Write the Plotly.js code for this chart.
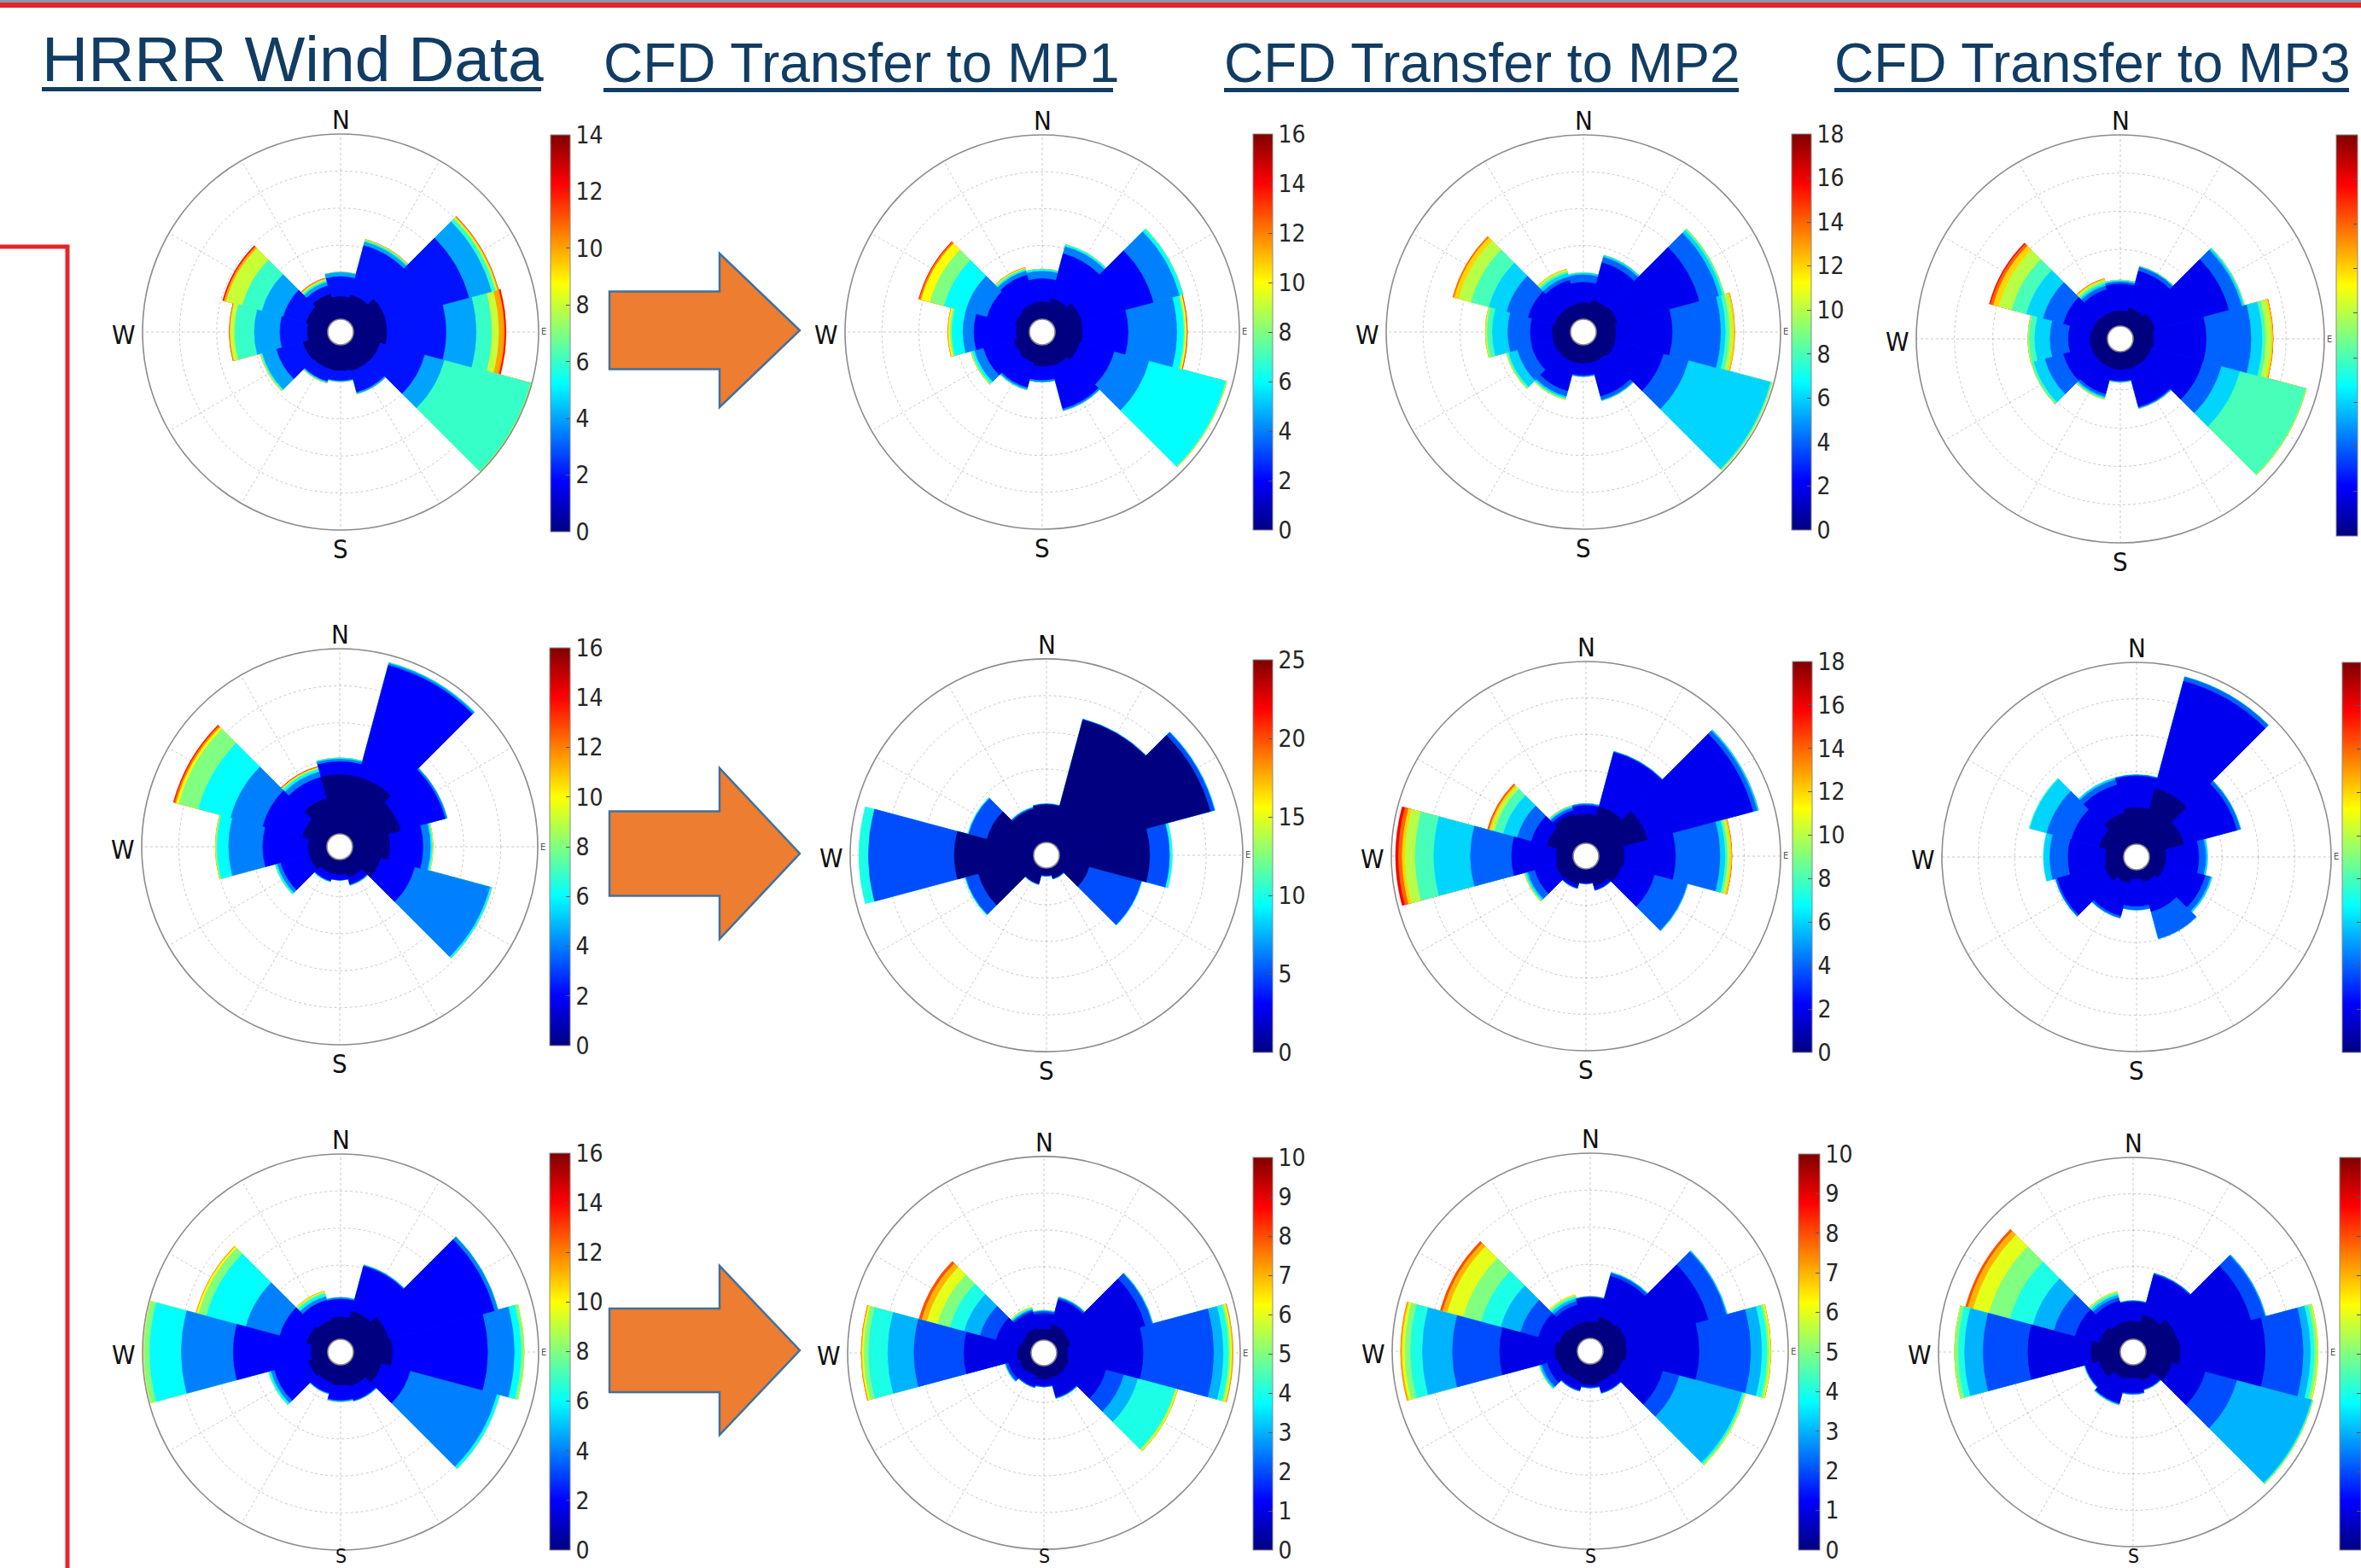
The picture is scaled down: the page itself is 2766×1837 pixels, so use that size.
<!DOCTYPE html>
<html><head><meta charset="utf-8">
<script src="https://cdn.plot.ly/plotly-3.0.1.min.js"></script>
<style>html,body{margin:0;padding:0;overflow:hidden;background:#fff}</style>
</head><body><div id="chart" style="width:2766px;height:1837px"></div>
<script>
const W = 2766, H = 1837;

// wind direction sectors (degrees, clockwise from North)
const directions = [0, 30, 60, 90, 120, 150, 180, 210, 240, 270, 300, 330];

// column titles
const columnTitles = ["HRRR Wind Data", "CFD Transfer to MP1", "CFD Transfer to MP2", "CFD Transfer to MP3"];

// colorbar maximum speed and speed-bin width for each rose (row-major, 3 rows x 4 columns)
const colorbarMax = [14, 16, 18, 18,  16, 25, 18, 18,  16, 10, 10, 10];
const binWidth    = [2, 2, 2, 2,      2, 5, 2, 2,      2, 1, 1, 1];

// cumulative frequency (in ring units, 5 rings) for speeds <= each bin upper edge; one row per bin
const roseR1Hrrr = [
  [0.61, 0.69, 0.91, 0.90, 0.75, 0.73, 0.69, 0.68, 0.70, 0.55, 0.61, 0.71],
  [1.15, 2.07, 3.24, 2.50, 2.00, 1.33, 0.96, 1.02, 1.44, 1.29, 1.25, 0.95],
  [1.26, 2.17, 3.87, 3.31, 2.55, 1.37, 0.98, 1.05, 1.84, 1.98, 1.85, 1.05],
  [1.27, 2.21, 3.98, 3.73, 4.96, 1.38, 0.99, 1.07, 1.88, 2.51, 2.40, 1.10],
  [1.27, 2.23, 4.03, 3.92, 4.98, 1.38, 0.99, 1.08, 1.90, 2.63, 2.85, 1.14],
  [1.27, 2.24, 4.06, 4.07, 4.99, 1.38, 0.99, 1.08, 1.90, 2.65, 2.91, 1.16],
  [1.27, 2.24, 4.07, 4.12, 5.00, 1.38, 0.99, 1.08, 1.90, 2.66, 2.95, 1.17]
];
const roseR1Mp1 = [
  [0.47, 0.60, 0.75, 0.74, 0.70, 0.60, 0.58, 0.50, 0.45, 0.35, 0.40, 0.45],
  [1.10, 1.85, 2.77, 1.98, 1.67, 1.80, 0.95, 1.20, 1.30, 1.50, 1.20, 1.25],
  [1.30, 2.05, 3.50, 3.30, 2.65, 1.85, 1.00, 1.25, 1.55, 1.80, 1.80, 1.36],
  [1.35, 2.10, 3.60, 3.48, 4.80, 1.86, 1.01, 1.27, 1.62, 2.10, 2.40, 1.40],
  [1.36, 2.11, 3.61, 3.52, 4.82, 1.86, 1.01, 1.28, 1.65, 2.15, 2.80, 1.43],
  [1.36, 2.11, 3.61, 3.56, 4.83, 1.86, 1.01, 1.28, 1.66, 2.20, 3.05, 1.45],
  [1.36, 2.11, 3.61, 3.58, 4.83, 1.86, 1.01, 1.28, 1.66, 2.21, 3.10, 1.46],
  [1.36, 2.11, 3.61, 3.59, 4.83, 1.86, 1.01, 1.28, 1.66, 2.21, 3.12, 1.46]
];
const roseR1Mp2 = [
  [0.45, 0.55, 0.60, 0.53, 0.55, 0.50, 0.50, 0.50, 0.50, 0.49, 0.45, 0.42],
  [1.00, 1.60, 2.90, 2.06, 1.90, 1.45, 0.82, 1.30, 1.10, 1.09, 1.20, 1.10],
  [1.20, 1.75, 3.45, 3.37, 2.60, 1.55, 0.85, 1.45, 1.50, 1.70, 1.80, 1.20],
  [1.25, 1.80, 3.55, 3.50, 4.90, 1.57, 0.86, 1.50, 1.75, 2.12, 2.30, 1.30],
  [1.26, 1.81, 3.60, 3.60, 4.93, 1.58, 0.86, 1.53, 1.80, 2.26, 2.80, 1.35],
  [1.26, 1.81, 3.61, 3.70, 4.95, 1.58, 0.86, 1.55, 1.82, 2.30, 3.15, 1.40],
  [1.26, 1.81, 3.61, 3.75, 4.95, 1.58, 0.86, 1.55, 1.82, 2.31, 3.28, 1.42],
  [1.26, 1.81, 3.61, 3.76, 4.95, 1.58, 0.86, 1.55, 1.82, 2.31, 3.32, 1.42]
];
const roseR1Mp3 = [
  [0.40, 0.50, 0.60, 0.54, 0.50, 0.48, 0.47, 0.45, 0.45, 0.45, 0.42, 0.40],
  [1.10, 1.50, 2.60, 1.91, 1.90, 1.50, 0.76, 1.15, 1.20, 1.02, 1.20, 1.00],
  [1.15, 1.60, 2.95, 3.08, 2.40, 1.53, 0.78, 1.22, 1.70, 1.50, 1.75, 1.10],
  [1.18, 1.62, 3.00, 3.37, 2.90, 1.54, 0.79, 1.26, 2.00, 1.90, 2.20, 1.15],
  [1.20, 1.63, 3.03, 3.46, 4.68, 1.55, 0.80, 1.28, 2.06, 2.05, 2.60, 1.20],
  [1.20, 1.63, 3.03, 3.60, 4.70, 1.55, 0.80, 1.30, 2.07, 2.08, 2.95, 1.25],
  [1.20, 1.63, 3.03, 3.65, 4.70, 1.55, 0.80, 1.30, 2.07, 2.08, 3.10, 1.28],
  [1.20, 1.63, 3.03, 3.66, 4.70, 1.55, 0.80, 1.30, 2.07, 2.08, 3.18, 1.29],
  [1.20, 1.63, 3.03, 3.66, 4.70, 1.55, 0.80, 1.30, 2.07, 2.08, 3.21, 1.29]
];
const roseR2Hrrr = [
  [1.60, 1.60, 1.35, 1.00, 0.80, 0.50, 0.40, 0.40, 0.50, 0.50, 0.70, 1.00],
  [1.95, 4.72, 2.60, 1.90, 1.75, 0.70, 0.55, 0.60, 1.30, 1.73, 1.80, 1.60],
  [2.02, 4.78, 2.65, 2.10, 3.85, 0.72, 0.56, 0.62, 1.40, 2.65, 2.70, 1.75],
  [2.05, 4.80, 2.66, 2.14, 3.90, 0.73, 0.56, 0.63, 1.45, 2.96, 3.60, 1.82],
  [2.05, 4.80, 2.66, 2.16, 3.91, 0.73, 0.56, 0.63, 1.46, 3.00, 4.15, 1.85],
  [2.05, 4.80, 2.66, 2.17, 3.91, 0.73, 0.56, 0.63, 1.46, 3.01, 4.22, 1.87],
  [2.05, 4.80, 2.66, 2.17, 3.91, 0.73, 0.56, 0.63, 1.46, 3.01, 4.27, 1.89],
  [2.05, 4.80, 2.66, 2.17, 3.91, 0.73, 0.56, 0.63, 1.46, 3.01, 4.30, 1.90]
];
const roseR2Mp1 = [
  [1.03, 3.47, 4.27, 2.46, 0.85, 0.30, 0.20, 0.45, 1.57, 2.16, 1.33, 0.96],
  [1.05, 3.49, 4.39, 3.00, 2.33, 0.32, 0.22, 0.47, 1.93, 4.50, 1.85, 1.00],
  [1.06, 3.50, 4.41, 3.08, 2.35, 0.33, 0.23, 0.48, 1.96, 4.76, 1.88, 1.02]
];
const roseR2Mp2 = [
  [0.80, 1.05, 1.40, 0.70, 0.65, 0.50, 0.37, 0.45, 0.50, 0.46, 0.75, 0.85],
  [1.04, 2.60, 4.40, 2.11, 1.60, 0.60, 0.40, 0.55, 1.10, 1.69, 1.20, 0.95],
  [1.08, 2.62, 4.52, 3.33, 2.53, 0.62, 0.41, 0.56, 1.30, 2.82, 1.60, 1.02],
  [1.09, 2.63, 4.56, 3.47, 2.55, 0.62, 0.41, 0.57, 1.35, 3.83, 2.00, 1.06],
  [1.09, 2.63, 4.56, 3.53, 2.55, 0.62, 0.41, 0.57, 1.38, 4.34, 2.25, 1.08],
  [1.09, 2.63, 4.56, 3.60, 2.55, 0.62, 0.41, 0.57, 1.40, 4.61, 2.35, 1.09],
  [1.09, 2.63, 4.56, 3.65, 2.55, 0.62, 0.41, 0.57, 1.40, 4.70, 2.40, 1.09],
  [1.09, 2.63, 4.56, 3.66, 2.55, 0.62, 0.41, 0.57, 1.40, 4.80, 2.45, 1.09],
  [1.09, 2.63, 4.56, 3.66, 2.55, 0.62, 0.41, 0.57, 1.40, 4.88, 2.45, 1.09]
];
const roseR2Mp3 = [
  [1.00, 1.60, 1.00, 0.45, 0.45, 0.35, 0.25, 0.40, 0.55, 0.50, 0.70, 0.90],
  [1.87, 4.65, 2.50, 1.36, 1.60, 1.20, 1.00, 1.32, 1.90, 1.53, 1.50, 1.70],
  [1.90, 4.77, 2.60, 1.55, 1.75, 1.97, 1.10, 1.38, 1.95, 2.03, 2.20, 1.85],
  [1.91, 4.78, 2.62, 1.60, 1.80, 1.98, 1.11, 1.39, 1.96, 2.20, 2.68, 1.90],
  [1.91, 4.78, 2.62, 1.61, 1.80, 1.98, 1.11, 1.39, 1.96, 2.21, 2.71, 1.91]
];
const roseR3Hrrr = [
  [0.60, 0.80, 1.00, 1.05, 0.80, 0.60, 0.55, 0.50, 0.55, 0.45, 0.60, 0.55],
  [1.08, 2.05, 3.95, 3.62, 1.60, 1.00, 0.95, 0.80, 1.50, 2.55, 1.35, 1.10],
  [1.12, 2.08, 4.05, 4.34, 4.02, 1.02, 0.98, 0.82, 1.60, 3.95, 2.30, 1.20],
  [1.13, 2.09, 4.06, 4.52, 4.10, 1.03, 0.99, 0.83, 1.66, 4.80, 3.40, 1.28],
  [1.13, 2.09, 4.06, 4.60, 4.11, 1.03, 0.99, 0.83, 1.67, 4.95, 3.62, 1.32],
  [1.13, 2.09, 4.06, 4.61, 4.11, 1.03, 0.99, 0.83, 1.67, 4.96, 3.68, 1.35],
  [1.13, 2.09, 4.06, 4.61, 4.11, 1.03, 0.99, 0.83, 1.67, 4.96, 3.70, 1.36]
];
const roseR3Mp1 = [
  [0.30, 0.45, 0.40, 0.30, 0.35, 0.35, 0.37, 0.30, 0.35, 0.37, 0.30, 0.35],
  [0.72, 1.15, 2.50, 2.35, 1.40, 0.90, 0.55, 0.60, 0.65, 1.83, 1.00, 0.80],
  [0.78, 1.20, 2.70, 4.27, 1.90, 0.92, 0.57, 0.62, 0.72, 3.19, 1.45, 0.85],
  [0.80, 1.22, 2.72, 4.53, 2.30, 0.93, 0.58, 0.63, 0.74, 3.90, 1.90, 0.88],
  [0.81, 1.23, 2.73, 4.67, 3.35, 0.94, 0.58, 0.63, 0.75, 4.42, 2.30, 0.91],
  [0.81, 1.23, 2.73, 4.72, 3.38, 0.94, 0.58, 0.63, 0.75, 4.55, 2.65, 0.93],
  [0.81, 1.23, 2.73, 4.77, 3.42, 0.94, 0.58, 0.63, 0.75, 4.60, 2.95, 0.94],
  [0.81, 1.23, 2.73, 4.79, 3.43, 0.94, 0.58, 0.63, 0.75, 4.62, 3.10, 0.94],
  [0.81, 1.23, 2.73, 4.80, 3.43, 0.94, 0.58, 0.63, 0.75, 4.63, 3.18, 0.94]
];
const roseR3Mp2 = [
  [0.45, 0.60, 0.65, 0.63, 0.55, 0.50, 0.55, 0.50, 0.55, 0.60, 0.50, 0.45],
  [1.10, 1.75, 2.95, 2.59, 1.68, 0.80, 0.62, 0.74, 0.85, 2.10, 1.10, 0.95],
  [1.12, 1.83, 3.45, 3.98, 2.14, 0.82, 0.64, 0.76, 1.00, 3.37, 1.60, 1.05],
  [1.13, 1.85, 3.48, 4.28, 3.90, 0.83, 0.65, 0.77, 1.05, 4.18, 2.15, 1.12],
  [1.13, 1.86, 3.49, 4.42, 3.95, 0.83, 0.65, 0.77, 1.07, 4.50, 2.70, 1.17],
  [1.13, 1.86, 3.49, 4.48, 3.98, 0.83, 0.65, 0.77, 1.08, 4.65, 3.20, 1.20],
  [1.13, 1.86, 3.49, 4.52, 4.00, 0.83, 0.65, 0.77, 1.08, 4.72, 3.65, 1.23],
  [1.13, 1.86, 3.49, 4.53, 4.00, 0.83, 0.65, 0.77, 1.08, 4.76, 3.78, 1.23],
  [1.13, 1.86, 3.49, 4.53, 4.00, 0.83, 0.65, 0.77, 1.08, 4.77, 3.85, 1.23]
];
const roseR3Mp3 = [
  [0.50, 0.70, 0.90, 0.94, 0.75, 0.45, 0.36, 0.40, 0.60, 0.80, 0.60, 0.50],
  [1.03, 1.85, 3.00, 3.28, 1.70, 0.70, 0.77, 1.10, 1.00, 2.54, 1.30, 1.10],
  [1.05, 1.88, 3.40, 4.32, 2.60, 0.72, 0.80, 1.12, 1.02, 3.77, 1.90, 1.20],
  [1.06, 1.89, 3.43, 4.52, 4.72, 0.73, 0.81, 1.14, 1.03, 4.28, 2.50, 1.27],
  [1.06, 1.89, 3.43, 4.62, 4.75, 0.73, 0.81, 1.15, 1.04, 4.45, 3.15, 1.32],
  [1.06, 1.89, 3.43, 4.70, 4.76, 0.73, 0.81, 1.15, 1.04, 4.55, 3.75, 1.35],
  [1.06, 1.89, 3.43, 4.73, 4.77, 0.73, 0.81, 1.15, 1.04, 4.56, 4.20, 1.37],
  [1.06, 1.89, 3.43, 4.73, 4.77, 0.73, 0.81, 1.15, 1.04, 4.56, 4.35, 1.37],
  [1.06, 1.89, 3.43, 4.73, 4.77, 0.73, 0.81, 1.15, 1.04, 4.56, 4.42, 1.37]
];

const roseData = [roseR1Hrrr, roseR1Mp1, roseR1Mp2, roseR1Mp3,
                  roseR2Hrrr, roseR2Mp1, roseR2Mp2, roseR2Mp3,
                  roseR3Hrrr, roseR3Mp1, roseR3Mp2, roseR3Mp3];

// ---------- layout geometry (pixels) ----------
const roseGeom = [ // [centerX, centerY, radius]
  [399, 389, 232], [1221, 389, 231], [1855, 389, 231], [2484, 397, 239],
  [398, 992, 232], [1226, 1002, 230], [1858, 1003, 228], [2503, 1004, 228],
  [399, 1584, 232], [1223, 1585, 230], [1863, 1583, 232], [2499, 1584, 228]
];
const cbGeom = [ // [left, top, width, height]
  [645, 158, 23, 465], [1468, 157, 23, 464], [2099, 157, 23, 464], [2737, 158, 25, 470],
  [644, 759, 24, 466], [1468, 773, 23, 460], [2100, 775, 23, 458], [2744, 776, 22, 457],
  [644, 1351, 24, 465], [1468, 1356, 23, 460], [2107, 1352, 25, 464], [2741, 1356, 25, 460]
];
const arrowGeom = [ // [centerY, halfShaft, halfHead]
  [387, 45.5, 90], [1000, 49.5, 100], [1582, 49, 99]
];

const jet = [[0, 'rgb(0,0,128)'], [0.125, 'rgb(0,0,255)'], [0.375, 'rgb(0,255,255)'],
             [0.625, 'rgb(255,255,0)'], [0.875, 'rgb(255,0,0)'], [1, 'rgb(128,0,0)']];
const FONT = 'Liberation Sans, Arial, Helvetica, sans-serif';
const NARROW = 'Liberation Sans Narrow, Arial Narrow, DejaVu Sans Condensed, Liberation Sans, sans-serif';
const TITLE_COLOR = '#113c63';
const px = v => v / W;
const py = v => 1 - v / H;

const traces = [];
const layout = {
  width: W, height: H,
  margin: {l: 0, r: 0, t: 0, b: 0, autoexpand: false},
  paper_bgcolor: '#ffffff',
  showlegend: false,
  font: {family: FONT},
  shapes: [], annotations: []
};

roseData.forEach((bins, i) => {
  const pid = i === 0 ? 'polar' : 'polar' + (i + 1);
  const [cx, cy, R] = roseGeom[i];
  const cmax = colorbarMax[i], step = binWidth[i];
  const col = i % 4;
  const [cbx, cbt, cbw, cbh] = cbGeom[i];
  for (let k = bins.length - 1; k >= 0; k--) {
    const cval = bins[k].map(() => k * step);
    const tr = {
      type: 'barpolar', subplot: pid,
      theta: directions, r: bins[k], width: 30,
      marker: {
        color: cval, colorscale: jet, cmin: 0, cmax: cmax,
        line: {width: 0.6, color: cval, colorscale: jet, cmin: 0, cmax: cmax},
        showscale: k === bins.length - 1
      },
      hoverinfo: 'skip', showlegend: false
    };
    if (k === bins.length - 1) {
      tr.marker.colorbar = {
        x: px(cbx), xanchor: 'left', y: py(cbt), yanchor: 'top',
        len: cbh, lenmode: 'pixels', thickness: cbw, thicknessmode: 'pixels',
        xpad: 0, ypad: 0, tick0: 0, dtick: step,
        ticks: 'inside', ticklen: 5, tickwidth: 1, tickcolor: '#555',
        outlinewidth: 1, outlinecolor: '#8a8a8a',
        showticklabels: col < 3,
        tickfont: {family: NARROW, size: 28, color: '#262626'}
      };
    }
    traces.push(tr);
  }
  layout[pid] = {
    domain: {x: [px(cx - R), px(cx + R)], y: [py(cy + R), py(cy - R)]},
    hole: 15 / R,
    barmode: 'overlay',
    bgcolor: 'rgba(255,255,255,0)',
    radialaxis: {range: [0, 5], tick0: 0, dtick: 1, showticklabels: false, ticks: '',
                 showline: false, gridcolor: 'rgba(90,90,90,0.32)', griddash: 'dot', gridwidth: 1},
    angularaxis: {rotation: 90, direction: 'clockwise', tick0: 0, dtick: 30, showticklabels: false,
                  ticks: '', showline: true, linecolor: '#8c8c8c', linewidth: 1.6,
                  gridcolor: 'rgba(90,90,90,0.32)', griddash: 'dot', gridwidth: 1}
  };
  // compass labels
  const lab = (t, x, y, xa, size, color) => layout.annotations.push({
    text: t, x: px(x), y: py(y), xref: 'paper', yref: 'paper', xanchor: xa, yanchor: 'middle',
    showarrow: false, font: {family: NARROW, size: size, color: color}
  });
  lab('N', cx, cy - R - 17, 'center', 31, '#111');
  // South label: keep it inside the page for the bottom row
  if (cy + R + 40 <= H) lab('S', cx, cy + R + 22, 'center', 31, '#111');
  else lab('S', cx, H - 14, 'center', 23, '#111');
  lab('W', cx - R - 6, cy + 3, 'right', 31, '#111');
  lab('E', cx + R + 1, cy, 'left', 11, '#555');
});

// column titles with underline
const titleGeom = [ // [left, centerY, fontSize, underlineRight, underlineTop]
  [49, 69, 75, 634, 102], [707, 74, 64, 1304, 103], [1434, 74, 64, 2037, 103], [2149, 74, 64, 2752, 103]
];
columnTitles.forEach((t, j) => {
  const [lx, cyT, fs, ur, ut] = titleGeom[j];
  layout.annotations.push({
    text: t, x: px(lx - 2), y: py(cyT), xref: 'paper', yref: 'paper', xanchor: 'left', yanchor: 'middle',
    showarrow: false, font: {family: FONT, size: fs, color: TITLE_COLOR}
  });
  layout.shapes.push({type: 'rect', xref: 'paper', yref: 'paper', x0: px(lx), x1: px(ur),
    y0: py(ut + 5), y1: py(ut), fillcolor: TITLE_COLOR, line: {width: 0}});
});

// top banner lines
layout.shapes.push({type: 'rect', xref: 'paper', yref: 'paper', x0: 0, x1: 1, y0: py(3), y1: 1,
  fillcolor: '#8b9aab', line: {width: 0}});
layout.shapes.push({type: 'rect', xref: 'paper', yref: 'paper', x0: 0, x1: 1, y0: py(9), y1: py(3),
  fillcolor: '#e3262b', line: {width: 0}});
// red bracket on the left
layout.shapes.push({type: 'path', xref: 'paper', yref: 'paper',
  path: `M 0,${py(289)} L ${px(79)},${py(289)} L ${px(79)},${py(1840)}`,
  line: {color: '#e3262b', width: 5}});
// orange arrows
arrowGeom.forEach(([ay, hs, hh]) => {
  const xs = 714, xh = 843, xt = 937;
  const p = `M ${px(xs)},${py(ay - hs)} L ${px(xh)},${py(ay - hs)} L ${px(xh)},${py(ay - hh)} ` +
            `L ${px(xt)},${py(ay)} L ${px(xh)},${py(ay + hh)} L ${px(xh)},${py(ay + hs)} ` +
            `L ${px(xs)},${py(ay + hs)} Z`;
  layout.shapes.push({type: 'path', xref: 'paper', yref: 'paper', path: p,
    fillcolor: '#ed7d31', line: {color: '#41719c', width: 2.5}});
});

Plotly.newPlot('chart', traces, layout, {staticPlot: true, displayModeBar: false});
</script>
</body></html>
